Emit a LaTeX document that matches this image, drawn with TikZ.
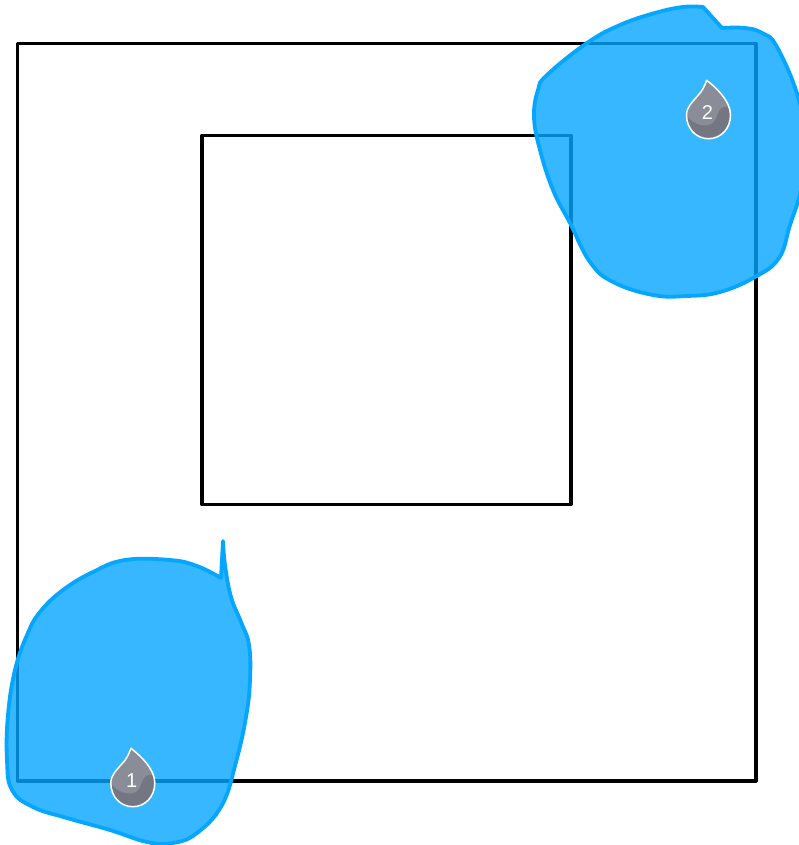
\documentclass[tikz,border=0pt]{standalone}
\usepackage{fontspec}
\setmainfont{Liberation Sans}
\usepackage{xcolor}
\usepackage{tikz}
\definecolor{blobblue}{HTML}{04A6FF}
\definecolor{pinlight}{HTML}{8A8D98}
\definecolor{pindark}{HTML}{747781}

% one numbered drop, (#1,#2) is the centre of its round part
\newcommand{\droppin}[4]{
	\begin{scope}[shift={(#1,#2)}]
		\begin{scope}
			\clip (-1.8,-34.7) .. controls (8,-27) and (22,-14) .. (22,0)
				.. controls (22,14) and (12,23.7) .. (0,23.7)
				.. controls (-12,23.7) and (-22,14) .. (-22,0)
				.. controls (-22,-8) and (-16,-13) .. (-11,-19)
				.. controls (-6,-24) and (-4,-29) .. cycle;
			\fill[pinlight] (-24,-36) rectangle (24,25);
			\fill[pindark] (-24,-3) .. controls (-18,9) and (-5,13) .. (3,9)
				.. controls (10,5) and (8,-8) .. (17,-8)
				-- (24,-8) -- (24,25) -- (-24,25) -- cycle;
		\end{scope}
		\draw[pinedge] (-1.8,-34.7) .. controls (8,-27) and (22,-14) .. (22,0)
			.. controls (22,14) and (12,23.7) .. (0,23.7)
			.. controls (-12,23.7) and (-22,14) .. (-22,0)
			.. controls (-22,-8) and (-16,-13) .. (-11,-19)
			.. controls (-6,-24) and (-4,-29) .. cycle;
		\node[pinlabel] (#3) at (-1,-2.5) {#4};
	\end{scope}
}

\begin{document}
\begin{tikzpicture}[
		x=1pt,
		y=-1pt,
		wall/.style={draw=black, line width=3.2pt, line join=round},
		blob/.style={draw=blobblue, line width=3.8pt, line join=round, fill=blobblue, fill opacity=0.8},
		pinedge/.style={draw=white, line width=1.5pt, line join=round},
		pinlabel/.style={text=white, inner sep=0pt, font=\fontsize{20}{20}\selectfont}
		]
		
		\clip (0,0) rectangle (799,845);
		\fill[white] (0,0) rectangle (799,845);
		
		% Squares
		\draw[wall] (17.5,43.5) rectangle (756,781);
		\draw[wall] (202,135.5) rectangle (571,504.5);
		
		% Lower left patch
		\draw[blob] plot[smooth, tension=0.7] coordinates {
			(223,541) (225,565) (231,597) (241,622) (249,645) (250,680) (246,717)
			(236,762) (222,805) (197,833) (173,843) (147,842) (110,830)
			(67,818) (33,807) (12,790) (7,760) (8,715) (15,670) (27,635) (40,612)
			(63,590) (93,572) (125,560) (170,560) (197,566) (221,578)
		} -- cycle;
		
		% Upper right patch
		\draw[blob] plot[smooth, tension=0.7] coordinates {
			(703,7) (683,7) (655,13) (620,25) (587,43) (547,75) (538,90) (534,117)
			(540,150) (553,190) (570,223) (590,262) (613,282) (653,295) (687,296)
			(720,292) (755,277) (779,258) (790,225) (801,190) (806,150) (799,100)
			(777,47) (762,33) (745,28) (722,28)
		} -- cycle;
		
		% Drops
		\droppin{132.8}{783}{pinone}{1}
		\droppin{708.5}{115}{pintwo}{2}
		
	\end{tikzpicture}
\end{document}
